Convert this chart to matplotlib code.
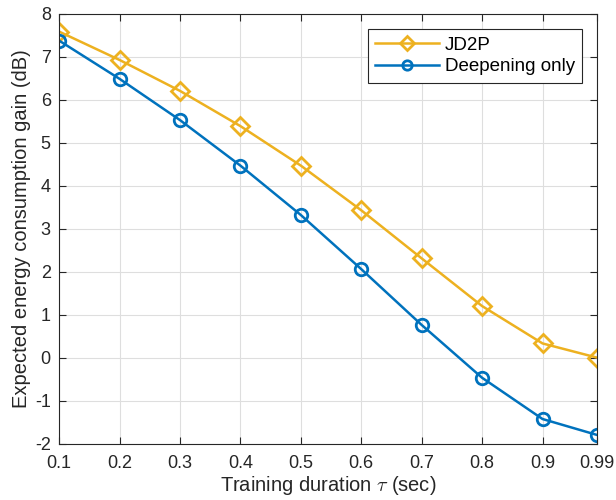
import matplotlib
matplotlib.use('Agg')
import matplotlib.pyplot as plt

# training duration (sec)
tau = [0.1, 0.2, 0.3, 0.4, 0.5, 0.6, 0.7, 0.8, 0.9, 0.99]
jd2p = [7.59, 6.93, 6.21, 5.39, 4.47, 3.43, 2.31, 1.20, 0.33, 0.0]
deepening = [7.38, 6.49, 5.53, 4.47, 3.32, 2.06, 0.76, -0.47, -1.43, -1.80]
xtick_labels = ['0.1', '0.2', '0.3', '0.4', '0.5', '0.6', '0.7', '0.8', '0.9', '0.99']

plt.rcParams['font.family'] = ['Liberation Sans', 'DejaVu Sans']
plt.rcParams['mathtext.fontset'] = 'cm'
plt.rcParams['axes.unicode_minus'] = False

fig = plt.figure(figsize=(6.16, 5.0), dpi=100)
ax = fig.add_axes([0.096, 0.113, 0.873, 0.859])

ax.plot(tau, jd2p, color='#EDB120', lw=1.8, marker='D', ms=9,
        mfc='none', mew=2, label='JD2P')
ax.plot(tau, deepening, color='#0072BD', lw=1.8, marker='o', ms=9,
        mfc='none', mew=2, label='Deepening only')

ax.set_xlim(0.1, 0.99)
ax.set_ylim(-2, 8)
ax.set_xticks(tau)
ax.set_xticklabels(xtick_labels)
ax.set_yticks(range(-2, 9))

ax.grid(True, color='#dedede', lw=0.8)
ax.tick_params(direction='in', top=True, right=True, length=5,
               labelsize=13, colors='#262626')
ax.tick_params(axis='x', pad=8)
ax.tick_params(axis='y', pad=6)
for s in ax.spines.values():
    s.set_color('#262626')
    s.set_linewidth(0.8)

ax.set_xlabel(r'Training duration $\tau$ (sec)', fontsize=14.5, color='#262626', labelpad=2)
ax.set_ylabel('Expected energy consumption gain (dB)', fontsize=14.5, color='#262626', labelpad=3)

leg = ax.legend(loc='upper right', fontsize=13.5, handlelength=3.4, fancybox=False,
                framealpha=1, edgecolor='#262626', borderpad=0.4, markerscale=0.75,
                labelspacing=0.25, handletextpad=0.3, borderaxespad=0,
                bbox_to_anchor=(0.973, 0.965))
leg.get_frame().set_linewidth(0.8)

fig.savefig('out.png', dpi=100)
